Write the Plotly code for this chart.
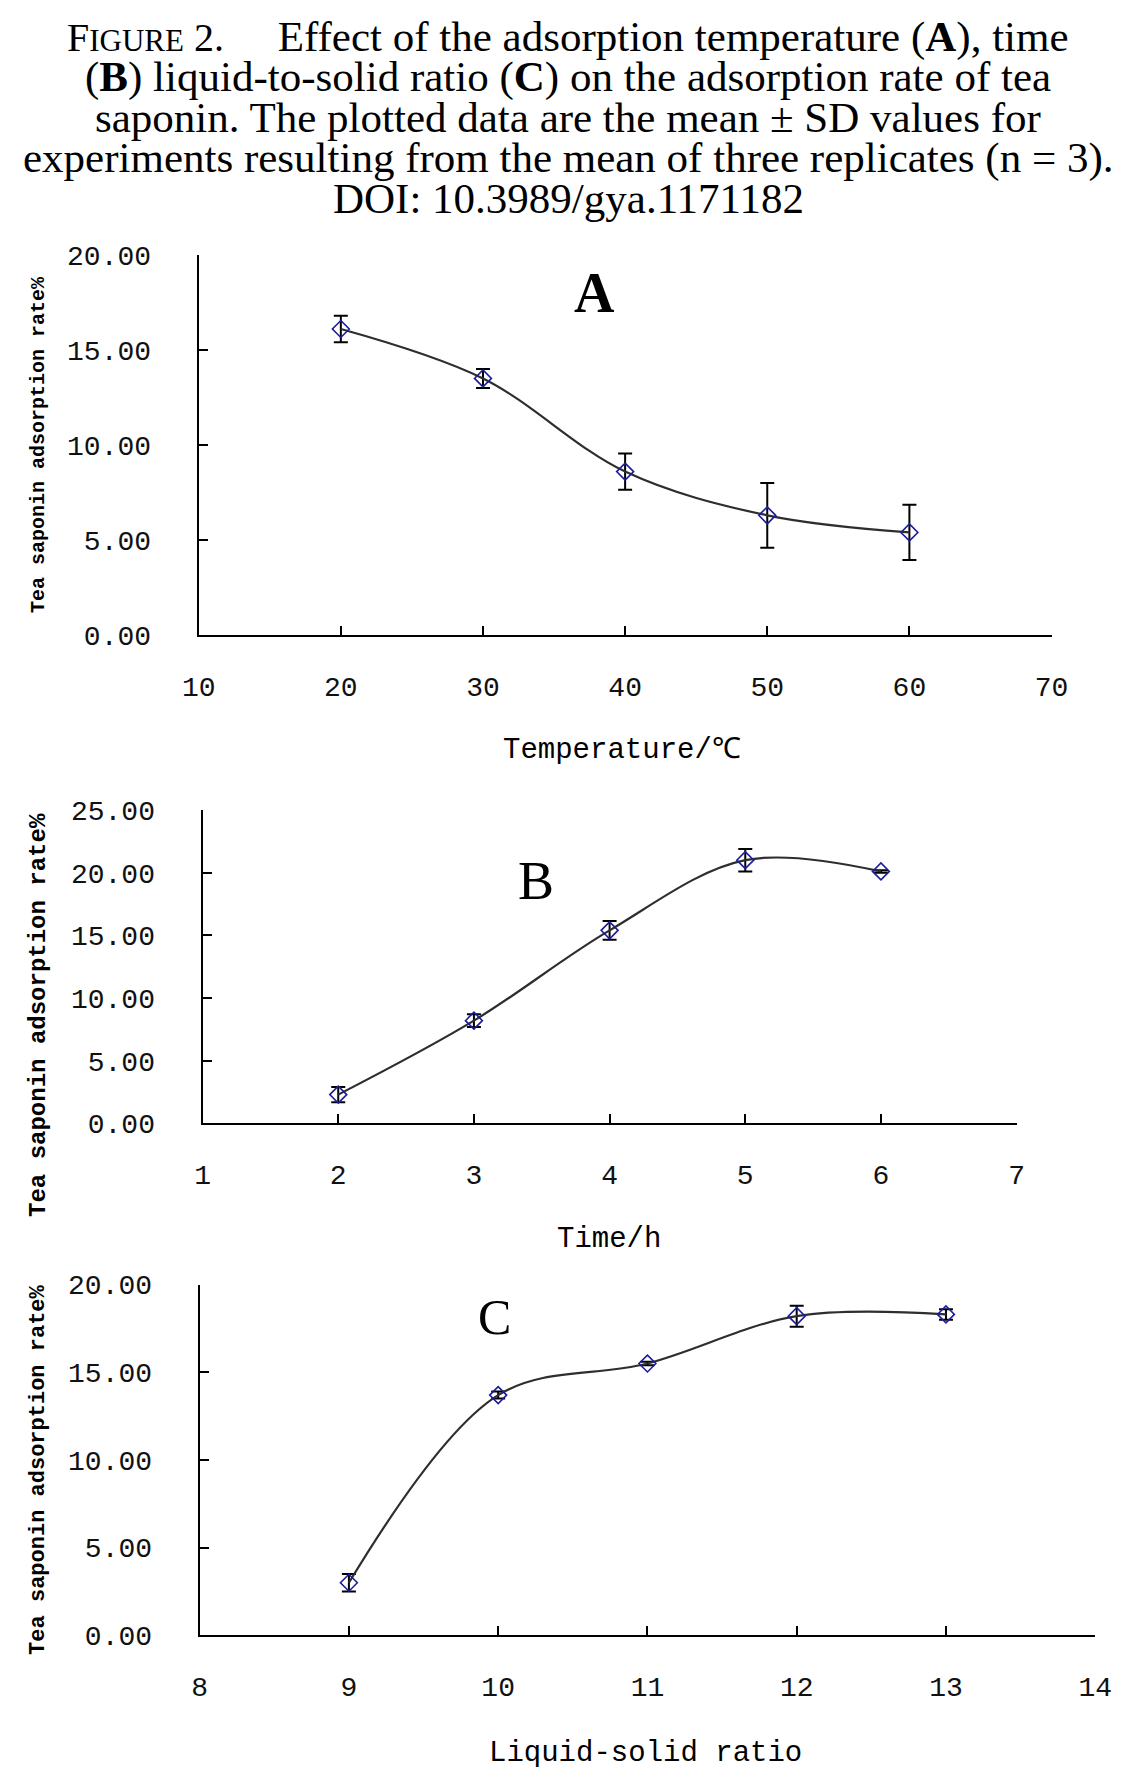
import plotly.graph_objects as go

W, H = 1144, 1779

# panel A: temperature
temp_x = [20, 30, 40, 50, 60]
temp_y = [16.1, 13.5, 8.6, 6.3, 5.4]
temp_err = [0.7, 0.5, 0.95, 1.7, 1.45]

# panel B: time
time_x = [2, 3, 4, 5, 6]
time_y = [2.3, 8.2, 15.4, 21.0, 20.1]
time_err = [0.6, 0.5, 0.75, 0.9, 0.1]

# panel C: liquid-solid ratio
ratio_x = [9, 10, 11, 12, 13]
ratio_y = [3.0, 13.7, 15.5, 18.2, 18.3]
ratio_err = [0.5, 0.2, 0.1, 0.6, 0.3]

y_title = "Tea saponin adsorption rate%"
caption_lines = [
    "<span style='font-size:40px'>F</span><span style='font-size:31px'>IGURE</span>"
    "<span style='font-size:40px'> 2.</span>\u00a0\u00a0\u00a0\u00a0\u00a0"
    "Effect of the adsorption temperature (<b>A</b>), time",
    "(<b>B</b>) liquid-to-solid ratio (<b>C</b>) on the adsorption rate of tea",
    "saponin. The plotted data are the mean ± SD values for",
    "experiments resulting from the mean of three replicates (n = 3).",
    "DOI: 10.3989/gya.1171182",
]


def px(x):
    return x / W


def py(y):
    return 1 - y / H


MONO = "Liberation Mono"
SERIF = "Liberation Serif"
MARK = "#1c1c9c"

fig = go.Figure()

panels = [
    (temp_x, temp_y, temp_err, "x", "y"),
    (time_x, time_y, time_err, "x2", "y2"),
    (ratio_x, ratio_y, ratio_err, "x3", "y3"),
]
for xs, ys, es, xa, ya in panels:
    fig.add_trace(go.Scatter(
        x=xs, y=ys, xaxis=xa, yaxis=ya, mode="lines+markers",
        line=dict(color="#2e2e2e", width=2.2, shape="spline", smoothing=1.0),
        marker=dict(symbol="diamond-open", size=13, color=MARK, line=dict(width=1.6, color=MARK)),
        error_y=dict(type="data", array=es, visible=True, color="black", thickness=2, width=7),
        showlegend=False, hoverinfo="skip"))

axis_common = dict(showline=True, linecolor="black", linewidth=2, ticks="inside",
                   ticklen=9, tickwidth=2, tickcolor="black", showgrid=False, zeroline=False,
                   tickfont=dict(family=MONO, size=28, color="#111111"))

# (x domain px, y domain px, x range, x dtick, y range, y dtick)
layout_spec = [
    ((179, 1058), (238, 625), [10, 70], 10, [0, 20], 5),
    ((183, 1022), (803, 1122), [1, 7], 1, [0, 25], 5),
    ((180, 1103), (1286, 1643), [8, 14], 1, [0, 20], 5),
]
axes = {}
for i, (xd, yd, xr, xdt, yr, ydt) in enumerate(layout_spec):
    sfx = "" if i == 0 else str(i + 1)
    axes["xaxis" + sfx] = dict(axis_common, domain=[px(xd[0]), px(xd[1])], range=xr, dtick=xdt,
                               tick0=xr[0], anchor="y" + sfx, ticklabelstandoff=25)
    axes["yaxis" + sfx] = dict(axis_common, domain=[py(yd[1]), py(yd[0])], range=yr, dtick=ydt,
                               tick0=0, anchor="x" + sfx, tickformat=".2f", ticklabelstandoff=40)


def note(text, x, y, font, angle=0):
    return dict(text=text, x=px(x), y=py(y), xref="paper", yref="paper", showarrow=False,
                xanchor="center", yanchor="middle", textangle=angle, font=font)


annotations = []
cap_y = [16, 57, 98, 139, 181]
for line, yy in zip(caption_lines, cap_y):
    annotations.append(note(line, 560, yy, dict(family=SERIF, size=43, color="black")))

# panel letters
annotations.append(note("<b>A</b>", 587, 277, dict(family=SERIF, size=56, color="black")))
annotations.append(note("B", 527, 875, dict(family=SERIF, size=54, color="black")))
annotations.append(note("C", 484, 1319, dict(family=SERIF, size=50, color="black")))

# axis titles
for txt, xx, yy in [("Temperature/℃", 615, 742), ("Time/h", 602, 1240), ("Liquid-solid ratio", 640, 1763)]:
    annotations.append(note(txt, xx, yy, dict(family=MONO, size=29, color="black")))
for yy, sz in [(431, 20), (1012, 24), (1475, 22)]:
    annotations.append(note("<b>" + y_title + "</b>", 14, yy,
                            dict(family=MONO, size=sz, color="black"), angle=-90))

fig.update_layout(width=W, height=H, margin=dict(l=0, r=0, t=0, b=0),
                  paper_bgcolor="white", plot_bgcolor="white",
                  annotations=annotations, **axes)

fig.write_html("out.html")
